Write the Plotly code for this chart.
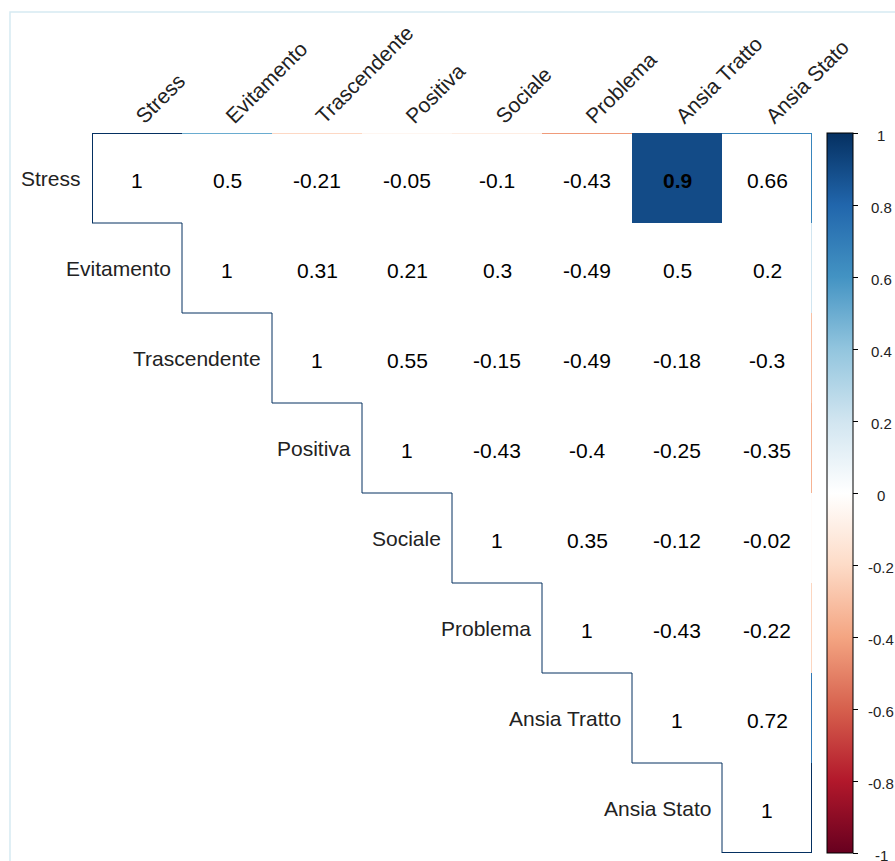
import math
import plotly.graph_objects as go
from plotly.colors import sample_colorscale

# Variables of the correlation matrix (row/column order)
variables = ["Stress", "Evitamento", "Trascendente", "Positiva",
             "Sociale", "Problema", "Ansia Tratto", "Ansia Stato"]

# Upper-triangle correlations, each row starting at its diagonal
r_stress = [1, 0.5, -0.21, -0.05, -0.1, -0.43, 0.9, 0.66]
r_evitamento = [1, 0.31, 0.21, 0.3, -0.49, 0.5, 0.2]
r_trascendente = [1, 0.55, -0.15, -0.49, -0.18, -0.3]
r_positiva = [1, -0.43, -0.4, -0.25, -0.35]
r_sociale = [1, 0.35, -0.12, -0.02]
r_problema = [1, -0.43, -0.22]
r_ansia_tratto = [1, 0.72]
r_ansia_stato = [1]

upper_rows = [r_stress, r_evitamento, r_trascendente, r_positiva,
              r_sociale, r_problema, r_ansia_tratto, r_ansia_stato]

# Off-diagonal correlations at or above this magnitude get a filled cell
highlight_threshold = 0.8

# Colorbar ticks
cbar_ticks = [1, 0.8, 0.6, 0.4, 0.2, 0, -0.2, -0.4, -0.6, -0.8, -1]

# Diverging red-blue palette
palette = ["#67001F", "#B2182B", "#D6604D", "#F4A582", "#FDDBC7", "#FFFFFF",
           "#D1E5F0", "#92C5DE", "#4393C3", "#2166AC", "#053061"]
colorscale = [[i / (len(palette) - 1), c] for i, c in enumerate(palette)]

FONT = "Liberation Sans, Arial, sans-serif"
n = len(variables)
ZMIN, ZMAX = -1, 1

# Full matrix (NaN below diagonal)
matrix = [[float("nan")] * n for _ in range(n)]
for i, row in enumerate(upper_rows):
    for k, v in enumerate(row):
        matrix[i][i + k] = v

# Only strong off-diagonal correlations are filled
fill = [[(matrix[i][j] if (j > i and not math.isnan(matrix[i][j])
                            and abs(matrix[i][j]) >= highlight_threshold) else None)
         for j in range(n)] for i in range(n)]


def color_of(v):
    return sample_colorscale(colorscale, [(v - ZMIN) / (ZMAX - ZMIN)])[0]


def fmt(v):
    s = f"{round(v, 2):g}"
    return "0" if s == "-0" else s


def edge_width(on_boundary):
    # lines on the plot boundary are half clipped, so draw them wider
    return 2 if on_boundary else 1


fig = go.Figure()
fig.add_trace(go.Heatmap(
    z=fill, x=list(range(n)), y=list(range(n)),
    zmin=ZMIN, zmax=ZMAX, colorscale=colorscale, hoverongaps=False,
    colorbar=dict(
        x=1.0208, xanchor="left", xpad=0, ypad=0,
        y=0.5, yanchor="middle", len=1, lenmode="fraction",
        thickness=26, outlinewidth=1, outlinecolor="black",
        tickvals=cbar_ticks, showticklabels=False,
        ticks="outside", ticklen=5, tickcolor="black",
    ),
))

shapes = []
# Staircase outline along the diagonal, in the colour of the diagonal value
for i in range(n):
    c = color_of(matrix[i][i])
    shapes.append(dict(type="line", xref="x", yref="y",
                       x0=i - 0.5, x1=i - 0.5, y0=i - 0.5, y1=i + 0.5,
                       line=dict(color=c, width=edge_width(i == 0))))
    shapes.append(dict(type="line", xref="x", yref="y",
                       x0=i - 0.5, x1=i + 0.5, y0=i + 0.5, y1=i + 0.5,
                       line=dict(color=c, width=edge_width(i == n - 1))))
# Top edge of the first row and right edge of the last column
for j in range(n):
    shapes.append(dict(type="line", xref="x", yref="y",
                       x0=j - 0.5, x1=j + 0.5, y0=-0.5, y1=-0.5,
                       line=dict(color=color_of(matrix[0][j]), width=2)))
for i in range(n):
    shapes.append(dict(type="line", xref="x", yref="y",
                       x0=n - 0.5, x1=n - 0.5, y0=i - 0.5, y1=i + 0.5,
                       line=dict(color=color_of(matrix[i][n - 1]), width=2)))
# Light page frame
shapes.append(dict(type="rect", xref="paper", yref="paper",
                   x0=-0.1139, x1=1.3, y0=-0.05, y1=1.168,
                   line=dict(color="#d6eaf2", width=1.5), layer="below"))

annotations = []
for i in range(n):
    for j in range(i, n):
        v = matrix[i][j]
        strong = fill[i][j] is not None
        annotations.append(dict(
            x=j, y=i, xref="x", yref="y", showarrow=False, yshift=-2,
            text=f"<b>{fmt(v)}</b>" if strong else fmt(v),
            font=dict(family=FONT, size=21, color="black"),
        ))
    # Row label beside the diagonal cell
    annotations.append(dict(
        x=i - 0.5, y=i, xref="x", yref="y", showarrow=False,
        xanchor="right", xshift=-9, text=variables[i],
        font=dict(family=FONT, size=21, color="#222"),
    ))

# Centred colorbar labels (colorbar spans the full plot height)
for t in cbar_ticks:
    annotations.append(dict(
        x=1.0965, y=(t - ZMIN) / (ZMAX - ZMIN), xref="paper", yref="paper",
        showarrow=False, xanchor="center", yanchor="middle", yshift=-2,
        text=fmt(t), font=dict(family=FONT, size=15, color="#222"),
    ))

fig.update_layout(
    width=895, height=861,
    margin=dict(l=92, r=83, t=133, b=8, autoexpand=False),
    paper_bgcolor="white", plot_bgcolor="white",
    shapes=shapes, annotations=annotations,
    xaxis=dict(range=[-0.5, n - 0.5], side="top", tickvals=list(range(n)),
               ticktext=variables, tickangle=-45, showgrid=False,
               zeroline=False, showline=False, ticks="",
               tickfont=dict(family=FONT, size=21, color="#222")),
    yaxis=dict(range=[n - 0.5, -0.5], showticklabels=False, showgrid=False,
               zeroline=False, showline=False, ticks=""),
    showlegend=False,
)

fig.write_html("out.html")
